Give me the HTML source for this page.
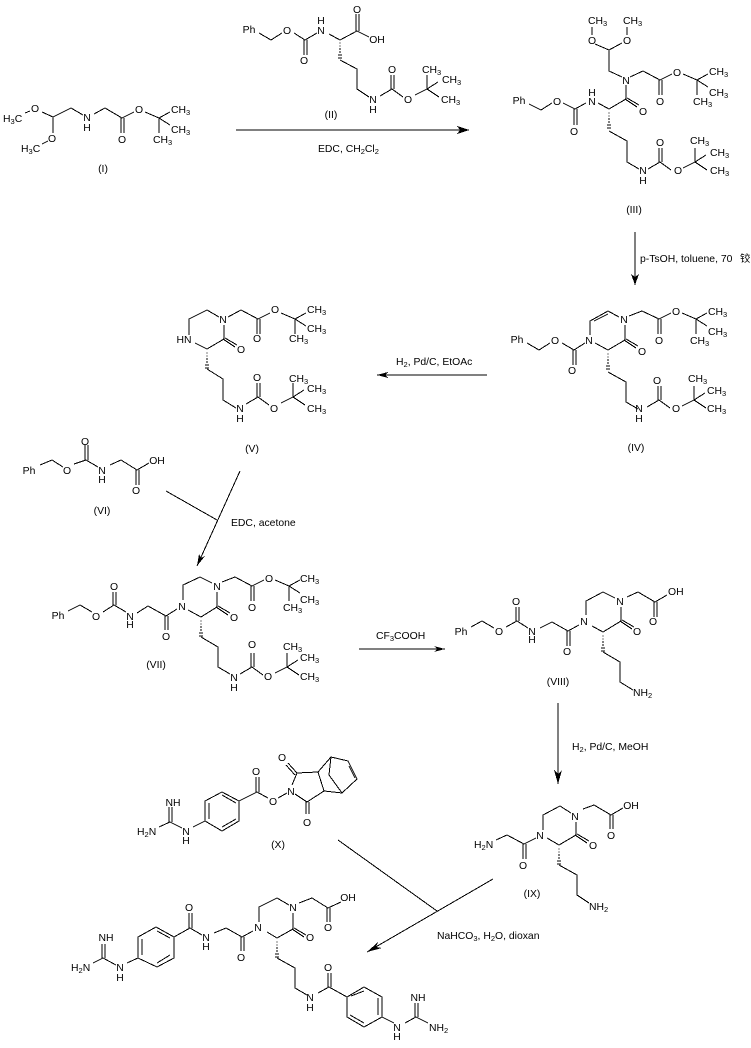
<!DOCTYPE html>
<html><head><meta charset="utf-8"><style>
html,body{margin:0;padding:0;background:#fff}
svg{display:block}
path{fill:none;stroke:#000;stroke-width:1}
polygon{fill:#000;stroke:none}
text{font-family:"Liberation Sans","Noto Sans CJK SC",sans-serif;font-size:10.4px;fill:#000;text-anchor:middle}
text.s{text-anchor:start}
tspan.b{font-size:7.5px}
</style></head><body>
<svg xmlns="http://www.w3.org/2000/svg" width="751" height="1048" viewBox="0 0 751 1048" shape-rendering="crispEdges">

<!-- I -->
<path d="M25 113L30 111M42 112L53 117L71 108L83 115M94 114L105 108L122 118M53 117V133M48 141L42 144"/>
<text class="s" x="3" y="122">H<tspan class="b" dy="2">3</tspan><tspan dy="-2">C</tspan></text>
<text x="35" y="112">O</text><text x="87" y="121">N</text><text x="87" y="131">H</text><text x="52" y="142">O</text>
<text class="s" x="21" y="152">H<tspan class="b" dy="2">3</tspan><tspan dy="-2">C</tspan></text>
<text x="103" y="172">(I)</text>
<g transform="translate(122,118)"><path d="M-1 0V15M2 0V15M0 0L12-6M23-6L37 0L48-6M37 0L48 7M37 0V15"/><text x="17" y="-5">O</text><text x="0" y="25">O</text><text class="s" x="49" y="-5">CH<tspan class="b" dy="2">3</tspan></text><text class="s" x="49" y="15">CH<tspan class="b" dy="2">3</tspan></text><text class="s" x="31" y="25">CH<tspan class="b" dy="2">3</tspan></text></g>

<!-- II -->
<path d="M259 33L271 40L282 33M294 33L305 40L317 33M304 40V55M307 40V55M329 34L340 40L357 31L369 37M356 31V14M359 31V14M340 60L357 69V89L369 97"/>
<text x="249" y="33">Ph</text><text x="287" y="34">O</text><text x="304" y="64">O</text><text x="321" y="34">N</text><text x="321" y="24">H</text><text x="357" y="13">O</text><text x="377" y="43">OH</text>
<g transform="translate(340,40)"><path d="M-.5 3h1M-.5 6h1M-1 9h2M-1 12h2M-2 15h4M-2 18h4"/></g>
<g transform="translate(392,89)"><path d="M-12 7L0 0M-1 0V-14M2 0V-14M0 0L11 8M23 6L35 0V-14M35 0L46-7M35 0L47 8"/><text x="-19" y="14">N</text><text x="-19" y="24">H</text><text x="0" y="-16">O</text><text x="16" y="14">O</text><text class="s" x="30" y="-16">CH<tspan class="b" dy="2">3</tspan></text><text class="s" x="50" y="-6">CH<tspan class="b" dy="2">3</tspan></text><text class="s" x="49" y="14">CH<tspan class="b" dy="2">3</tspan></text></g>
<text x="331" y="118">(II)</text>
<path d="M236 130H469"/><polygon points="469,130 457,126 460,130 457,134"/>
<text class="s" x="318" y="152">EDC, CH<tspan class="b" dy="2">2</tspan><tspan dy="-2">Cl</tspan><tspan class="b" dy="2">2</tspan></text>

<!-- III -->
<path d="M592 27V35M627 27V35M595 44L609 50L622 43M609 50V71L622 77M630 77L643 71L660 80M626 85V99L609 109L598 103M625 99L637 107M627 98L639 105M586 103L575 109L563 103M574 109V125M577 109V125M552 103L541 110L529 104M609 131L627 141V162L639 169"/>
<text class="s" x="588" y="24">CH<tspan class="b" dy="2">3</tspan></text><text class="s" x="623" y="24">CH<tspan class="b" dy="2">3</tspan></text>
<text x="592" y="44">O</text><text x="627" y="44">O</text><text x="626" y="84">N</text><text x="643" y="115">O</text><text x="592" y="105">N</text><text x="592" y="96">H</text><text x="574" y="135">O</text><text x="557" y="105">O</text><text x="519" y="104">Ph</text>
<g transform="translate(609,109)"><path d="M-.5 4h1M-.5 7h1M-1 10h2M-1 13h2M-2 16h4M-2 19h4"/></g>
<g transform="translate(660,80)"><path d="M-1 0V15M2 0V15M0 0L12-6M23-6L37 0L48-6M37 0L48 7M37 0V15"/><text x="17" y="-4">O</text><text x="0" y="25">O</text><text class="s" x="49" y="-5">CH<tspan class="b" dy="2">3</tspan></text><text class="s" x="49" y="16">CH<tspan class="b" dy="2">3</tspan></text><text class="s" x="33" y="25">CH<tspan class="b" dy="2">3</tspan></text></g>
<g transform="translate(660,162)"><path d="M-12 7L0 0M-1 0V-14M2 0V-14M0 0L11 8M23 6L35 0V-14M35 0L46-7M35 0L47 8"/><text x="-17" y="12">N</text><text x="-17" y="22">H</text><text x="0" y="-16">O</text><text x="18" y="12">O</text><text class="s" x="30" y="-18">CH<tspan class="b" dy="2">3</tspan></text><text class="s" x="50" y="-6">CH<tspan class="b" dy="2">3</tspan></text><text class="s" x="50" y="12">CH<tspan class="b" dy="2">3</tspan></text></g>
<text x="634" y="213">(III)</text>

<path d="M635 232V285"/><polygon points="635,285 631,274 635,277 639,274"/>
<text class="s" x="640" y="262">p-TsOH, toluene, 70 <tspan x="740">铰</tspan></text>

<!-- IV -->
<path d="M527 343L539 350L550 343M562 343L574 350L585 343M573 350V365M576 350V365M590 335V321L608 311L619 317M594 321L608 314M625 325V340L608 350L595 343M624 340L636 348M626 339L638 346M629 316L642 311L659 319M608 372L626 382V402L638 409"/>
<text x="517" y="343">Ph</text><text x="555" y="344">O</text><text x="572" y="374">O</text><text x="589" y="344">N</text><text x="624" y="323">N</text><text x="642" y="355">O</text>
<g transform="translate(608,350)"><path d="M-.5 4h1M-.5 7h1M-1 10h2M-1 13h2M-2 16h4M-2 19h4"/></g>
<g transform="translate(659,319)"><path d="M-1 0V15M2 0V15M0 0L12-6M23-6L37 0L48-6M37 0L48 7M37 0V15"/><text x="17" y="-4">O</text><text x="0" y="25">O</text><text class="s" x="49" y="-4">CH<tspan class="b" dy="2">3</tspan></text><text class="s" x="49" y="16">CH<tspan class="b" dy="2">3</tspan></text><text class="s" x="31" y="25">CH<tspan class="b" dy="2">3</tspan></text></g>
<g transform="translate(659,400)"><path d="M-12 7L0 0M-1 0V-14M2 0V-14M0 0L11 8M23 6L35 0V-14M35 0L46-7M35 0L47 8"/><text x="-20" y="12">N</text><text x="-20" y="22">H</text><text x="-2" y="-16">O</text><text x="17" y="12">O</text><text class="s" x="29" y="-18">CH<tspan class="b" dy="2">3</tspan></text><text class="s" x="48" y="-6">CH<tspan class="b" dy="2">3</tspan></text><text class="s" x="48" y="12">CH<tspan class="b" dy="2">3</tspan></text></g>
<text x="636" y="451">(IV)</text>

<path d="M487 375H377"/><polygon points="377,375 388,372 385,375 388,378"/>
<text class="s" x="396" y="365">H<tspan class="b" dy="2">2</tspan><tspan dy="-2">, Pd/C, EtOAc</tspan></text>

<!-- V -->
<path d="M189 335V319L207 310L219 317M224 325V339L207 349L195 343M223 339L235 347M225 338L237 345M228 317L241 310L258 319M207 369L223 379V400L236 408"/>
<text x="184" y="343">HN</text><text x="223" y="323">N</text><text x="241" y="353">O</text>
<g transform="translate(207,349)"><path d="M-.5 4h1M-.5 7h1M-1 10h2M-1 13h2M-2 16h4M-2 19h4"/></g>
<g transform="translate(258,319)"><path d="M-1 0V15M2 0V15M0 0L12-6M23-6L37 0L48-6M37 0L48 7M37 0V15"/><text x="17" y="-6">O</text><text x="-1" y="23">O</text><text class="s" x="49" y="-6">CH<tspan class="b" dy="2">3</tspan></text><text class="s" x="49" y="13">CH<tspan class="b" dy="2">3</tspan></text><text class="s" x="31" y="23">CH<tspan class="b" dy="2">3</tspan></text></g>
<g transform="translate(258,397)"><path d="M-12 7L0 0M-1 0V-14M2 0V-14M0 0L11 8M23 6L35 0V-14M35 0L46-7M35 0L47 8"/><text x="-18" y="15">N</text><text x="-18" y="25">H</text><text x="-1" y="-16">O</text><text x="16" y="15">O</text><text class="s" x="31" y="-15">CH<tspan class="b" dy="2">3</tspan></text><text class="s" x="49" y="-5">CH<tspan class="b" dy="2">3</tspan></text><text class="s" x="49" y="15">CH<tspan class="b" dy="2">3</tspan></text></g>
<text x="252" y="452">(V)</text>

<!-- VI -->
<path d="M40 465L52 460L63 467M74 464L86 460L98 467M85 460V445M88 460V445M110 465L121 460L137 470L149 463M136 470V485M139 470V485"/>
<text x="29" y="474">Ph</text><text x="67" y="474">O</text><text x="85" y="445">O</text><text x="102" y="474">N</text><text x="102" y="483">H</text><text x="136" y="494">O</text><text x="157" y="464">OH</text>
<text x="102" y="514">(VI)</text>

<path d="M240 471L197 566M166 491L217 520"/><polygon points="197,566 199,554 201,558 205,556"/>
<text class="s" x="231" y="526">EDC, acetone</text>

<!-- VII -->
<path d="M68 611L80 605L92 612M103 612L114 605L126 612M113 605V592M116 605V592M137 613L148 606L166 616L177 609M165 616V630M168 616V630M183 600V585L200 577L212 583M217 592V607L201 617L188 610M216 607L228 615M218 606L230 613M222 582L235 577L252 586M201 637L218 647V667L230 674"/>
<text x="58" y="619">Ph</text><text x="96" y="620">O</text><text x="114" y="590">O</text><text x="130" y="620">N</text><text x="130" y="628">H</text><text x="166" y="640">O</text><text x="182" y="610">N</text><text x="217" y="590">N</text><text x="234" y="621">O</text>
<g transform="translate(201,617)"><path d="M-.5 4h1M-.5 7h1M-1 10h2M-1 13h2M-2 16h4M-2 19h4"/></g>
<g transform="translate(252,586)"><path d="M-1 0V15M2 0V15M0 0L12-6M23-6L37 0L48-6M37 0L48 7M37 0V15"/><text x="17" y="-4">O</text><text x="0" y="25">O</text><text class="s" x="48" y="-4">CH<tspan class="b" dy="2">3</tspan></text><text class="s" x="48" y="17">CH<tspan class="b" dy="2">3</tspan></text><text class="s" x="31" y="25">CH<tspan class="b" dy="2">3</tspan></text></g>
<g transform="translate(252,667)"><path d="M-12 7L0 0M-1 0V-14M2 0V-14M0 0L11 8M23 6L35 0V-14M35 0L46-7M35 0L47 8"/><text x="-18" y="14">N</text><text x="-18" y="24">H</text><text x="0" y="-19">O</text><text x="16" y="13">O</text><text class="s" x="31" y="-17">CH<tspan class="b" dy="2">3</tspan></text><text class="s" x="48" y="-6">CH<tspan class="b" dy="2">3</tspan></text><text class="s" x="48" y="13">CH<tspan class="b" dy="2">3</tspan></text></g>
<text x="156" y="668">(VII)</text>

<path d="M359 649H445"/><polygon points="445,649 434,646 437,649 434,652"/>
<text class="s" x="376" y="639">CF<tspan class="b" dy="2">3</tspan><tspan dy="-2">COOH</tspan></text>

<!-- VIII -->
<path d="M471 627L482 621L494 628M506 627L517 621L528 628M516 621V607M519 621V607M540 628L552 622L568 631L579 625M567 631V646M570 631V646M586 615V601L603 592L615 598M621 607V621L603 632L592 626M620 621L632 629M622 620L634 627M627 597L638 592L655 602L667 595M654 602V617M657 602V617M603 652L620 662V682L633 690"/>
<text x="461" y="635">Ph</text><text x="499" y="635">O</text><text x="516" y="605">O</text><text x="532" y="635">N</text><text x="532" y="643">H</text><text x="567" y="655">O</text><text x="584" y="625">N</text><text x="620" y="605">N</text><text x="637" y="635">O</text><text x="653" y="625">O</text>
<text class="s" x="668" y="595">OH</text>
<g transform="translate(603,632)"><path d="M-.5 4h1M-.5 7h1M-1 10h2M-1 13h2M-2 16h4M-2 19h4"/></g>
<text class="s" x="633" y="696">NH<tspan class="b" dy="2">2</tspan></text>
<text x="558" y="685">(VIII)</text>

<path d="M558 703V784"/><polygon points="558,784 554,770 558,774 562,770"/>
<text class="s" x="572" y="750">H<tspan class="b" dy="2">2</tspan><tspan dy="-2">, Pd/C, MeOH</tspan></text>

<!-- IX -->
<path d="M496 840L507 835L524 844L536 838M523 844V859M526 844V859M543 830V815L560 806L571 813M576 822V835L559 845L547 838M575 835L587 843M577 834L589 841M583 809L594 805L611 815L623 808M610 815V829M613 815V829M559 865L577 875V895L589 903"/>
<text class="s" x="474" y="848">H<tspan class="b" dy="2">2</tspan><tspan dy="-2">N</tspan></text>
<text x="523" y="869">O</text><text x="540" y="839">N</text><text x="575" y="820">N</text><text x="593" y="849">O</text><text x="611" y="839">O</text><text x="631" y="809">OH</text>
<g transform="translate(559,845)"><path d="M-.5 4h1M-.5 7h1M-1 10h2M-1 13h2M-2 16h4M-2 19h4"/></g>
<text class="s" x="589" y="910">NH<tspan class="b" dy="2">2</tspan></text>
<text x="532" y="897">(IX)</text>

<!-- X -->
<path d="M159 827L170 822L182 828M169 822V807M172 822V807M193 827L205 821V801L222 792L239 801V821L222 831L205 821M209 819V803M222 795L236 803M236 819L222 827M239 801L257 792L268 798M256 792V777M259 792V777M278 798L287 793M292 785L297 773L318 772L324 791L307 802L295 794M297 773L288 763M295 775L286 765M306 802V814M309 802V814M318 772L331 757L348 761L357 779L342 793L324 791M349 766L355 778M331 757L329 775L342 793"/>
<text class="s" x="137" y="835">H<tspan class="b" dy="2">2</tspan><tspan dy="-2">N</tspan></text>
<text x="173" y="806">NH</text><text x="186" y="835">N</text><text x="186" y="844">H</text><text x="256" y="775">O</text><text x="273" y="805">O</text><text x="291" y="795">N</text><text x="282" y="761">O</text><text x="307" y="826">O</text>
<text x="278" y="848">(X)</text>

<path d="M493 879L367 952M338 840L437 911"/><polygon points="367,952 378,942 376,947 382,948"/>
<text class="s" x="437" y="939">NaHCO<tspan class="b" dy="2">3</tspan><tspan dy="-2">, H</tspan><tspan class="b" dy="2">2</tspan><tspan dy="-2">O, dioxan</tspan></text>

<!-- Final -->
<path d="M93 963L103 958L116 965M102 958V944M105 958V944M127 963L138 958V937L156 927L174 937V958L157 967L138 958M142 955V939M157 931L170 938M170 955L157 963M174 937L190 928L202 935M189 928V913M192 928V913M214 933L226 928L242 937L253 931M241 937V951M244 937V951M259 922V907L277 898L289 905M293 913V929L277 938L267 932M292 929L304 937M294 928L306 935M277 958L295 968V988L307 995M318 993L329 987L347 997V1017L364 1027L382 1017V997L364 987L347 997M351 996L364 991M378 998V1015M350 1015L364 1023M328 987V973M331 987V973M382 1017L394 1023M405 1023L416 1017L428 1023M415 1017V1003M418 1017V1003M299 903L312 898L328 908L341 902M327 908V922M330 908V922"/>
<text class="s" x="71" y="971">H<tspan class="b" dy="2">2</tspan><tspan dy="-2">N</tspan></text>
<text x="106" y="941">NH</text><text x="120" y="971">N</text><text x="120" y="981">H</text><text x="189" y="911">O</text><text x="206" y="941">N</text><text x="206" y="950">H</text><text x="241" y="961">O</text><text x="258" y="931">N</text><text x="293" y="911">N</text><text x="310" y="941">O</text>
<text x="328" y="931">O</text><text x="348" y="901">OH</text>
<g transform="translate(277,938)"><path d="M-.5 4h1M-.5 7h1M-1 10h2M-1 13h2M-2 16h4M-2 19h4"/></g>
<text x="310" y="1001">N</text><text x="310" y="1011">H</text><text x="328" y="971">O</text><text x="397" y="1031">N</text><text x="397" y="1040">H</text><text x="418" y="1001">NH</text>
<text class="s" x="429" y="1031">NH<tspan class="b" dy="2">2</tspan></text>
</svg>
</body></html>
